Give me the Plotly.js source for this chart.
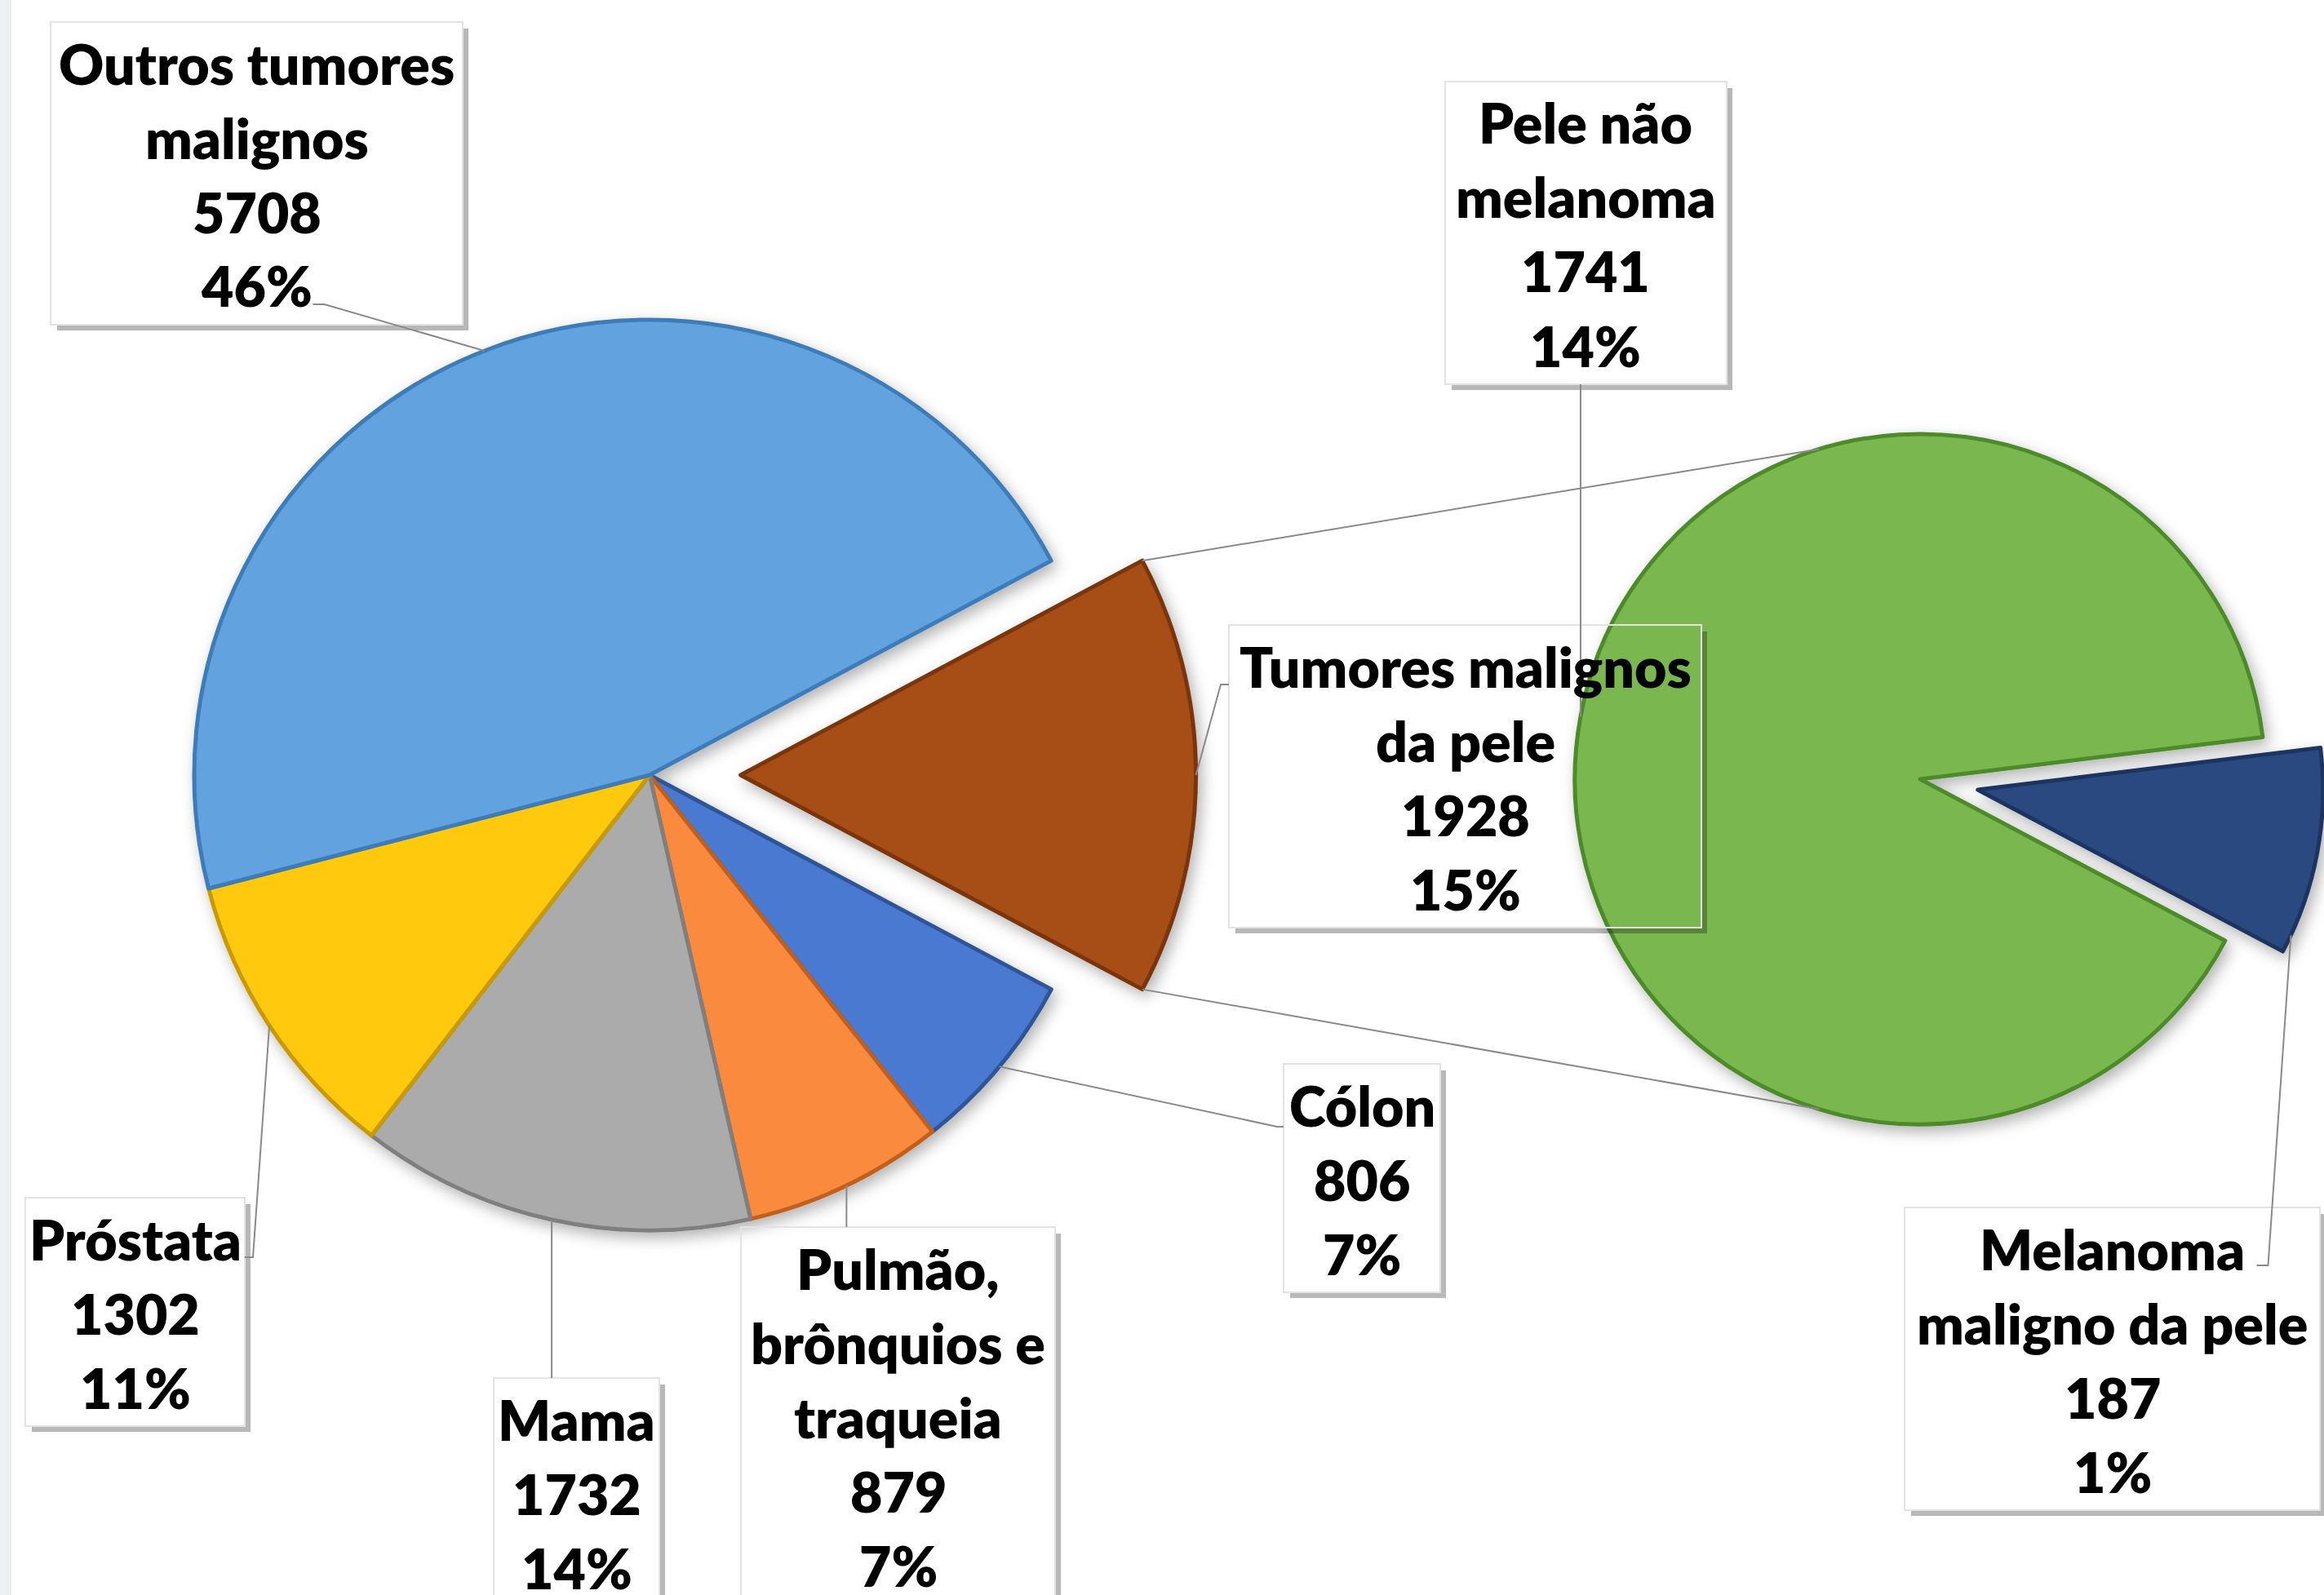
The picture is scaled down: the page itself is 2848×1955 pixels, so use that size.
<!DOCTYPE html>
<html><head><meta charset="utf-8">
<script src="https://cdn.plot.ly/plotly-3.0.1.min.js"></script>
<style>html,body{margin:0;padding:0;background:#fff;overflow:hidden}</style>
</head><body><div id="chart" style="width:2848px;height:1955px"></div>
<script>
// ---------------- data ----------------
const mainCategories = ['Tumores malignos da pele','Cólon','Pulmão, brônquios e traqueia','Mama','Próstata','Outros tumores malignos'];
const mainValues = [1928, 806, 879, 1732, 1302, 5708];
const mainPercentLabels = ['15%','7%','7%','14%','11%','46%'];
const mainLabelLines = [['Tumores malignos','da pele'],['Cólon'],['Pulmão,','brônquios e','traqueia'],['Mama'],['Próstata'],['Outros tumores','malignos']];

const subCategories = ['Melanoma maligno da pele','Pele não melanoma'];
const subValues = [187, 1741];
const subPercentLabels = ['1%','14%'];
const subLabelLines = [['Melanoma','maligno da pele'],['Pele não','melanoma']];

// ---------------- styles / layout ----------------
const W = 2848, H = 1955;
const mainColors = ['#A74D14','#4A79D0','#FA8A3C','#ABABAB','#FFC90A','#62A3DF'];
const mainLineColors = ['#7A3609','#2F5597','#C0601F','#7F7F7F','#C99A00','#3E7CB8'];
const subColors = ['#2A4A80','#7AB84F'];
const subLineColors = ['#1C3560','#4E8A2B'];
const mainPull = [0.2,0,0,0,0,0];
const subPull = [0.17,0];
const mainGeom = {cx:796, cy:950, r:558, rotation:61.9};
const subGeom = {cx:2353, cy:955, rotation:83};
const subHalf = W - subGeom.cx;
subGeom.r = subHalf / (1 + Math.max(...subPull));
const mainHalf = mainGeom.r * (1 + Math.max(...mainPull));

const FONT = {family:'Lato, "Open Sans", sans-serif', size:68, color:'#000', weight:800};
const PITCH = 91;
// label boxes: [x0, y0, x1] in px (height from number of lines)
const mainBoxes = [[1506,766,2085],[1573,1304,1765],[908,1504,1293],[605,1689,808],[31,1468,300],[62,27,567]];
const subBoxes = [[2334,1480,2843],[1771,100,2116]];

const px = x => x / W, py = y => 1 - y / H;
function domain(cx, cy, half){
  return {x:[Math.max(0,(cx-half)/W), Math.min(1,(cx+half)/W)], y:[Math.max(0,1-(cy+half)/H), Math.min(1,1-(cy-half)/H)]};
}
const rad = d => d*Math.PI/180;
function sliceGeom(values, g, pulls){
  const tot = values.reduce((a,b)=>a+b,0);
  let phi = g.rotation;
  return values.map((v,i)=>{
    const a = 360*v/tot, s = phi, e = phi + a; phi = e;
    const mid = (s+e)/2;
    const pcx = g.cx + pulls[i]*g.r*Math.sin(rad(mid));
    const pcy = g.cy - pulls[i]*g.r*Math.cos(rad(mid));
    const pt = (f, rr) => { rr = rr===undefined ? g.r : rr; return [pcx + rr*Math.sin(rad(f)), pcy - rr*Math.cos(rad(f))]; };
    return {s, e, mid, pcx, pcy, pt};
  });
}
const mainSl = sliceGeom(mainValues, mainGeom, mainPull);
const subSl = sliceGeom(subValues, subGeom, subPull);

const traces = [
  {type:'pie', labels:mainCategories, values:mainValues, sort:false, direction:'clockwise', rotation:mainGeom.rotation,
   pull:mainPull, textinfo:'none', hoverinfo:'label+value+percent', showlegend:false,
   marker:{colors:mainColors, line:{color:mainLineColors, width:5}},
   domain:domain(mainGeom.cx, mainGeom.cy, mainHalf)},
  {type:'pie', labels:subCategories, values:subValues, sort:false, direction:'clockwise', rotation:subGeom.rotation,
   pull:subPull, textinfo:'none', hoverinfo:'label+value+percent', showlegend:false,
   marker:{colors:subColors, line:{color:subLineColors, width:5}},
   domain:domain(subGeom.cx, subGeom.cy, subHalf)}
];

const shapes = [];
const annotations = [];
const LINE = {color:'#8A8A8A', width:2};
function path(points){ return 'M ' + points.map(p=>px(p[0])+','+py(p[1])).join(' L '); }
function addPath(points, line){ shapes.push({type:'path', xref:'paper', yref:'paper', path:path(points), line:line||LINE, layer:'above'}); }

// left stripe
shapes.push({type:'rect', xref:'paper', yref:'paper', x0:0, x1:px(14), y0:0, y1:1, fillcolor:'#EEF1F4', line:{width:0}, layer:'below'});

function addLabel(box, lines){
  const [x0,y0,x1] = box;
  const y1 = y0 + lines.length*PITCH + 7;
  addPath([[x1+4,y0+8],[x1+4,y1+4],[x0+8,y1+4]], {color:'rgba(0,0,0,0.28)', width:6});
  shapes.push({type:'rect', xref:'paper', yref:'paper', x0:px(x0), x1:px(x1), y0:py(y1), y1:py(y0), line:{color:'#E3E3E3', width:2}, layer:'above'});
  const cx = (x0+x1)/2;
  lines.forEach((t,i)=>{
    annotations.push({xref:'paper', yref:'paper', x:px(cx), y:py(y0+50+i*PITCH), xanchor:'center', yanchor:'middle', text:t, showarrow:false, font:FONT});
  });
  return {x0,y0,x1,y1,line0:y0+50,lineN:y0+50+(lines.length-1)*PITCH};
}
const mainB = mainBoxes.map((b,i)=>addLabel(b, mainLabelLines[i].concat([String(mainValues[i]), mainPercentLabels[i]])));
const subB = subBoxes.map((b,i)=>addLabel(b, subLabelLines[i].concat([String(subValues[i]), subPercentLabels[i]])));

// leader lines (arc mid points from slice geometry)
const am = i => mainSl[i].pt(mainSl[i].mid);
{ const b=mainB[0], p=am(0); addPath([p,[b.x0-10,b.line0+23],[b.x0,b.line0+23]]); }
{ const b=mainB[1], p=am(1); addPath([p,[b.x0-8,b.line0+27],[b.x0,b.line0+27]]); }
{ const b=mainB[2], p=am(2); addPath([p,[p[0],b.y0]]); }
{ const b=mainB[3], p=am(3); addPath([p,[p[0],b.y0]]); }
{ const b=mainB[4], p=am(4); addPath([p,[b.x1+10,b.line0+23],[b.x1,b.line0+23]]); }
{ const b=mainB[5], p=am(5); const cx=(b.x0+b.x1)/2; addPath([p,[cx+83,b.lineN+23],[cx+69,b.lineN+23]]); }
{ const b=subB[1], p=subSl[1].pt(subSl[1].mid); addPath([p,[p[0],b.y1]]); }
{ const b=subB[0], s=subSl[0], p=s.pt(s.e-3); const cx=(b.x0+b.x1)/2; addPath([p,[cx+191,b.line0+21],[cx+177,b.line0+21]]); }

// connector lines between pies
{ const br = mainSl[0];
  const top = br.pt(br.s), bot = br.pt(br.e);
  const sg = {cx:subGeom.cx, cy:subGeom.cy, r:subGeom.r};
  const q1 = [sg.cx + sg.r*Math.sin(rad(-17)), sg.cy - sg.r*Math.cos(rad(-17))];
  const q2 = [sg.cx + sg.r*Math.sin(rad(197)), sg.cy - sg.r*Math.cos(rad(197))];
  addPath([top,q1]); addPath([bot,q2]);
}

const layout = {width:W, height:H, margin:{l:0,r:0,t:0,b:0,pad:0}, autosize:false,
  paper_bgcolor:'#FFFFFF', plot_bgcolor:'#FFFFFF', showlegend:false, shapes, annotations};
Plotly.newPlot('chart', traces, layout, {displayModeBar:false, staticPlot:true}).then(gd => {
  // soft drop shadow under the pie slices, as in the reference
  const svg = gd.querySelector('svg.main-svg');
  const NS = 'http://www.w3.org/2000/svg';
  let defs = svg.querySelector('defs');
  if (!defs) { defs = document.createElementNS(NS, 'defs'); svg.insertBefore(defs, svg.firstChild); }
  const f = document.createElementNS(NS, 'filter');
  f.setAttribute('id', 'pieShadow'); f.setAttribute('x', '-20%'); f.setAttribute('y', '-20%');
  f.setAttribute('width', '140%'); f.setAttribute('height', '140%');
  const ds = document.createElementNS(NS, 'feDropShadow');
  ds.setAttribute('dx', '5'); ds.setAttribute('dy', '7'); ds.setAttribute('stdDeviation', '9');
  ds.setAttribute('flood-color', '#000'); ds.setAttribute('flood-opacity', '0.3');
  f.appendChild(ds); defs.appendChild(f);
  gd.querySelectorAll('g.trace').forEach(t => t.setAttribute('filter', 'url(#pieShadow)'));
});
</script></body></html>
